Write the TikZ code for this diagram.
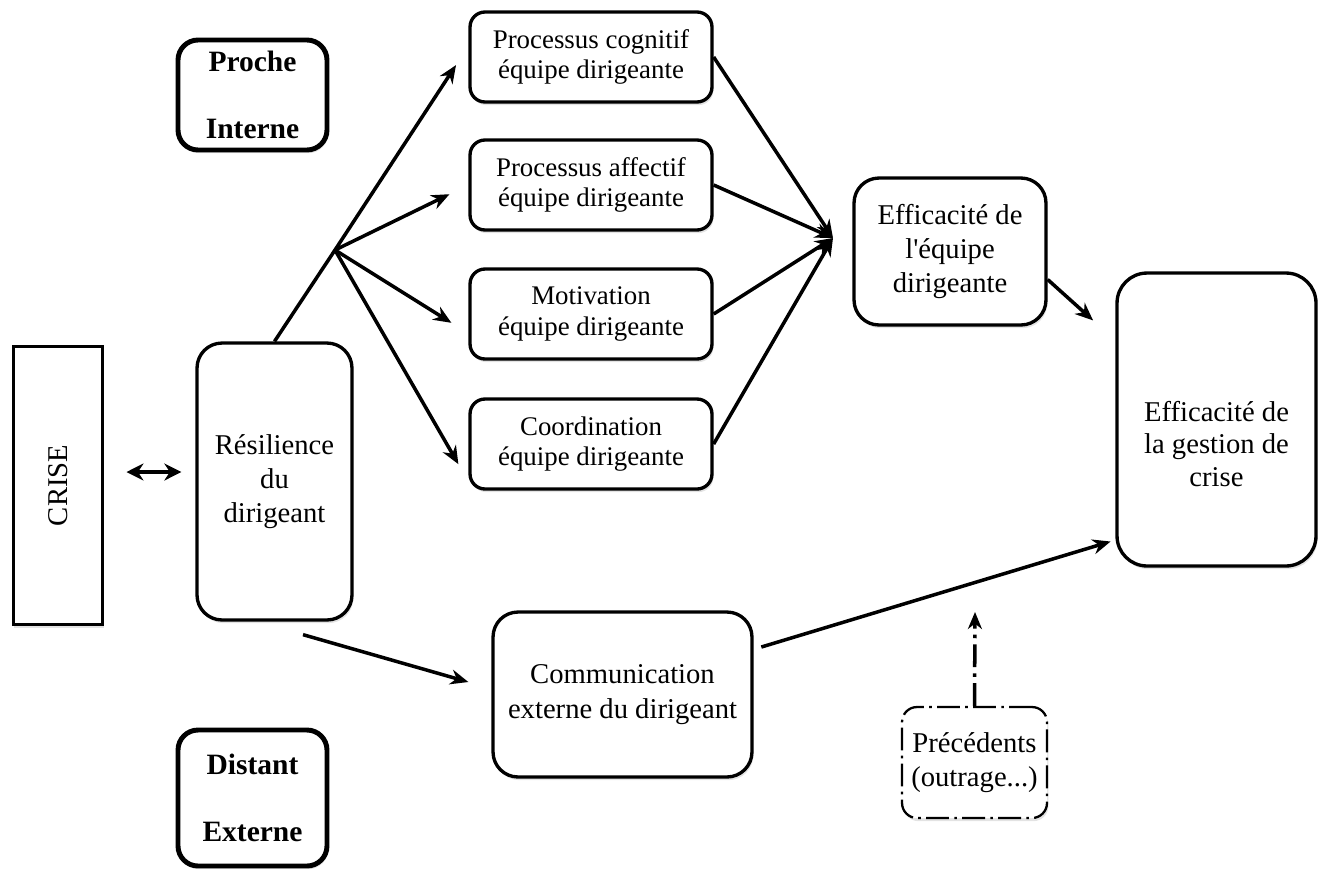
\documentclass[tikz,border=0pt]{standalone}
\usepackage{fontspec}
\setmainfont{Liberation Serif}[Ligatures=TeXOff]
\usetikzlibrary{positioning, arrows.meta, shadows}

\begin{document}
\begin{tikzpicture}[
    x=0.02cm, y=-0.02cm,
    round_box/.style = {draw, rounded corners=0.3cm, line width=1.9pt, fill=white, align=center,
        drop shadow={opacity=0.22, shadow xshift=0.8pt, shadow yshift=-1.8pt}},
    % Boites de l'equipe dirigeante
    team_box/.style = {round_box, minimum width=4.84cm, minimum height=1.8cm, font=\fontsize{15.3}{17.5}\selectfont},
    big_box/.style = {round_box, rounded corners=0.5cm, font=\fontsize{16.3}{19.5}\selectfont},
    % Boites Proche / Distant
    scale_box/.style = {round_box, rounded corners=0.4cm, line width=2.8pt, minimum width=2.98cm, font=\fontsize{16.8}{20}\selectfont\bfseries},
    prec_box/.style = {round_box, line width=1.3pt, dash pattern=on 13pt off 3pt on 1.5pt off 3pt, font=\fontsize{16.3}{19.5}\selectfont},
    arrow_main/.style = {-{Stealth[length=0.36cm, width=0.3cm]}, line width=2pt},
    arrow_both/.style = {{Stealth[length=0.34cm, width=0.34cm]}-{Stealth[length=0.34cm, width=0.34cm]}, line width=2.2pt},
    arrow_prec/.style = {-{Stealth[length=0.34cm, width=0.28cm]}, line width=2pt, dash pattern=on 13pt off 3.5pt on 2pt off 3.5pt}
]
\useasboundingbox (0,0) rectangle (1327,873);

% --- Colonne gauche ---
\node[scale_box, minimum height=2.2cm] (proche) at (252.5,95) {Proche\\[18pt]Interne};
\node[scale_box, minimum height=2.72cm] (distant) at (252.5,798) {Distant\\[18pt]Externe};
% rotate=90 : largeur et hauteur echangees
\node[draw, line width=1.7pt, fill=white, minimum width=5.58cm, minimum height=1.8cm, rotate=90,
      font=\fontsize{16.3}{19.5}\selectfont, drop shadow={opacity=0.22, shadow xshift=0.8pt, shadow yshift=-1.8pt}] (crise) at (58,485.5) {CRISE};
\node[big_box, minimum width=3.1cm, minimum height=5.54cm] (res) at (274.5,481.5) {Résilience\\du\\dirigeant};

% --- Equipe dirigeante ---
\node[team_box] (cog) at (591,57) {Processus cognitif\\équipe dirigeante};
\node[team_box] (aff) at (591,185) {Processus affectif\\équipe dirigeante};
\node[team_box] (mot) at (591,314) {Motivation\\équipe dirigeante};
\node[team_box] (coo) at (591,444) {Coordination\\équipe dirigeante};

% --- Resultats ---
\node[big_box, minimum width=3.84cm, minimum height=2.94cm] (eq) at (950,251.5) {Efficacité de\\l'équipe\\dirigeante};
\node[big_box, rounded corners=0.6cm, minimum width=3.98cm, minimum height=5.86cm,
      label={[yshift=-0.49cm, align=center, font=\fontsize{16.3}{18.5}\selectfont]center:Efficacité de\\la gestion de\\crise}] (ges) at (1216.5,419.5) {};
\node[big_box, minimum width=5.18cm, minimum height=3.3cm] (com) at (622.5,694.5) {Communication\\externe du dirigeant};
\node[prec_box, minimum width=2.9cm, minimum height=2.22cm] (prec) at (974.5,762.5) {Précédents\\(outrage...)};

% --- Points de branchement ---
\coordinate (split) at (335,250);
\coordinate (join) at (833,238);
\coordinate (prec_tip) at (975,612);

% --- Fleches ---
\draw[arrow_both] ([xshift=0.44cm, yshift=0.27cm]crise.south) -- ([xshift=-0.28cm, yshift=0.19cm]res.west);
\draw[arrow_main, shorten >=0.45cm] (res.north) -- (split) -- (cog.175);
\draw[arrow_main, shorten >=0.42cm] (split) -- (aff.west);
\draw[arrow_main, shorten >=0.4cm] (split) -- (mot.189);
\draw[arrow_main, shorten >=0.4cm] (split) -- (coo.197);

\draw[arrow_main] (cog.east) -- (join);
\draw[arrow_main] (aff.east) -- (join);
\draw[arrow_main] (mot.east) -- (join);
\draw[arrow_main] (coo.east) -- (join);

\draw[arrow_main, shorten >=0.6cm] (eq.-16) -- (ges.142);
\draw[arrow_main, shorten <=0.16cm, shorten >=0.1cm] (com.19) -- (ges.230);
\draw[arrow_main] ([xshift=0.57cm, yshift=-0.26cm]res.south) -- ([xshift=-0.46cm, yshift=0.25cm]com.west);
\draw[arrow_prec] (prec.north) -- (prec_tip);

\end{tikzpicture}
\end{document}
